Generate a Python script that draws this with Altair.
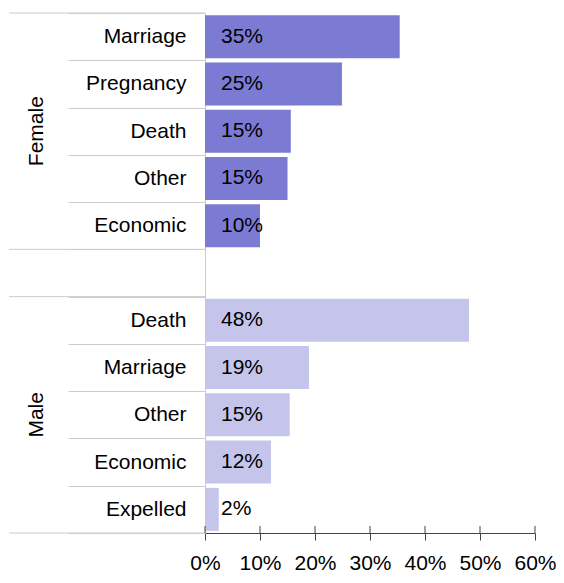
import altair as alt
import pandas as pd

# ---- data ----
genders = ["Female"] * 5 + ["Male"] * 5
reasons = ["Marriage", "Pregnancy", "Death", "Other", "Economic",
           "Death", "Marriage", "Other", "Economic", "Expelled"]
shares = [35.4, 24.9, 15.6, 15.0, 10.0, 48.0, 18.9, 15.4, 12.0, 2.5]
share_labels = ["35%", "25%", "15%", "15%", "10%", "48%", "19%", "15%", "12%", "2%"]
x_ticks = [0, 10, 20, 30, 40, 50, 60]
gender_order = ["Female", "Male"]
gender_colors = ["#7b7bd4", "#c5c5eb"]

FONT = "Liberation Sans"
FS = 21
LINE = "#cccccc"
AXIS = "#444444"

keys = [f"{g}|{r}" for g, r in zip(genders, reasons)]
gap_key = " "
female_keys = [k for k, g in zip(keys, genders) if g == "Female"]
male_keys = [k for k, g in zip(keys, genders) if g == "Male"]
domain = female_keys + [gap_key] + male_keys
mid_keys = [female_keys[len(female_keys) // 2], male_keys[len(male_keys) // 2]]

df = pd.DataFrame({"gender": genders, "reason": reasons, "key": keys,
                   "share": shares, "label": share_labels})
df_gender = pd.DataFrame({"gender": gender_order, "key": mid_keys})
df_starts = pd.DataFrame({"key": [female_keys[0], gap_key, male_keys[0]]})
df_ends = pd.DataFrame({"key": [male_keys[-1]]})
df_ticks = pd.DataFrame({"t": x_ticks})

yscale = alt.Scale(domain=domain, paddingInner=0, paddingOuter=0)
xscale = alt.Scale(domain=[0, 60], nice=False)

axis_reason = alt.Axis(
    orient="left", title=None, tickBand="extent", tickSize=137, tickColor=LINE,
    domainColor=LINE,
    labelExpr="(datum.value && indexof(datum.value, '|') >= 0) ? split(datum.value, '|')[1] : ''",
    labelPadding=-118, labelAlign="right", labelBaseline="middle",
    labelFont=FONT, labelFontSize=FS, labelColor="#000000", labelLimit=300,
)

axis_x = alt.Axis(
    orient="bottom", title=None, values=x_ticks, grid=False,
    labelExpr="datum.value + '%'", tickSize=7, tickColor=AXIS, domainColor=AXIS,
    labelPadding=29, labelBaseline="alphabetic",
    labelFont=FONT, labelFontSize=FS, labelColor="#000000",
    labelOverlap=False, labelFlush=False,
)

bars = alt.Chart(df).mark_bar(height=alt.RelativeBandSize(0.91)).encode(
    y=alt.Y("key:N", scale=yscale, axis=axis_reason, sort=domain),
    x=alt.X("share:Q", scale=xscale, axis=axis_x),
    color=alt.Color("gender:N", scale=alt.Scale(domain=gender_order, range=gender_colors),
                    legend=None),
)

labels = alt.Chart(df).transform_calculate(zero="0").mark_text(
    align="left", baseline="middle", dx=16, font=FONT, fontSize=FS, color="#000000"
).encode(
    y=alt.Y("key:N", scale=yscale, sort=domain),
    x=alt.X("zero:Q", scale=xscale),
    text="label:N",
)

gender_text = alt.Chart(df_gender).mark_text(
    angle=270, align="center", baseline="middle", font=FONT, fontSize=FS, color="#000000"
).encode(
    y=alt.Y("key:N", scale=yscale, sort=domain),
    x=alt.value(-168),
    text="gender:N",
)

group_start_lines = alt.Chart(df_starts).mark_rule(color=LINE, strokeWidth=1).encode(
    y=alt.Y("key:N", scale=yscale, sort=domain, bandPosition=0),
    x=alt.value(-196), x2=alt.value(0),
)

group_end_lines = alt.Chart(df_ends).mark_rule(color=LINE, strokeWidth=1).encode(
    y=alt.Y("key:N", scale=yscale, sort=domain, bandPosition=1),
    x=alt.value(-196), x2=alt.value(0),
)

up_ticks = alt.Chart(df_ticks).mark_rule(color=AXIS, strokeWidth=1).encode(
    x=alt.X("t:Q", scale=xscale),
    y=alt.value({"expr": "height - 7"}), y2=alt.value("height"),
)

chart = alt.layer(
    bars, group_start_lines, group_end_lines, labels, gender_text, up_ticks
).properties(
    width=330, height=520,
    autosize=alt.AutoSizeParams(type="none"),
    padding={"left": 197, "top": 5, "right": 21, "bottom": 42},
).configure_view(stroke=None)

chart.save("out.html", embed_options={"renderer": "svg", "actions": False})
